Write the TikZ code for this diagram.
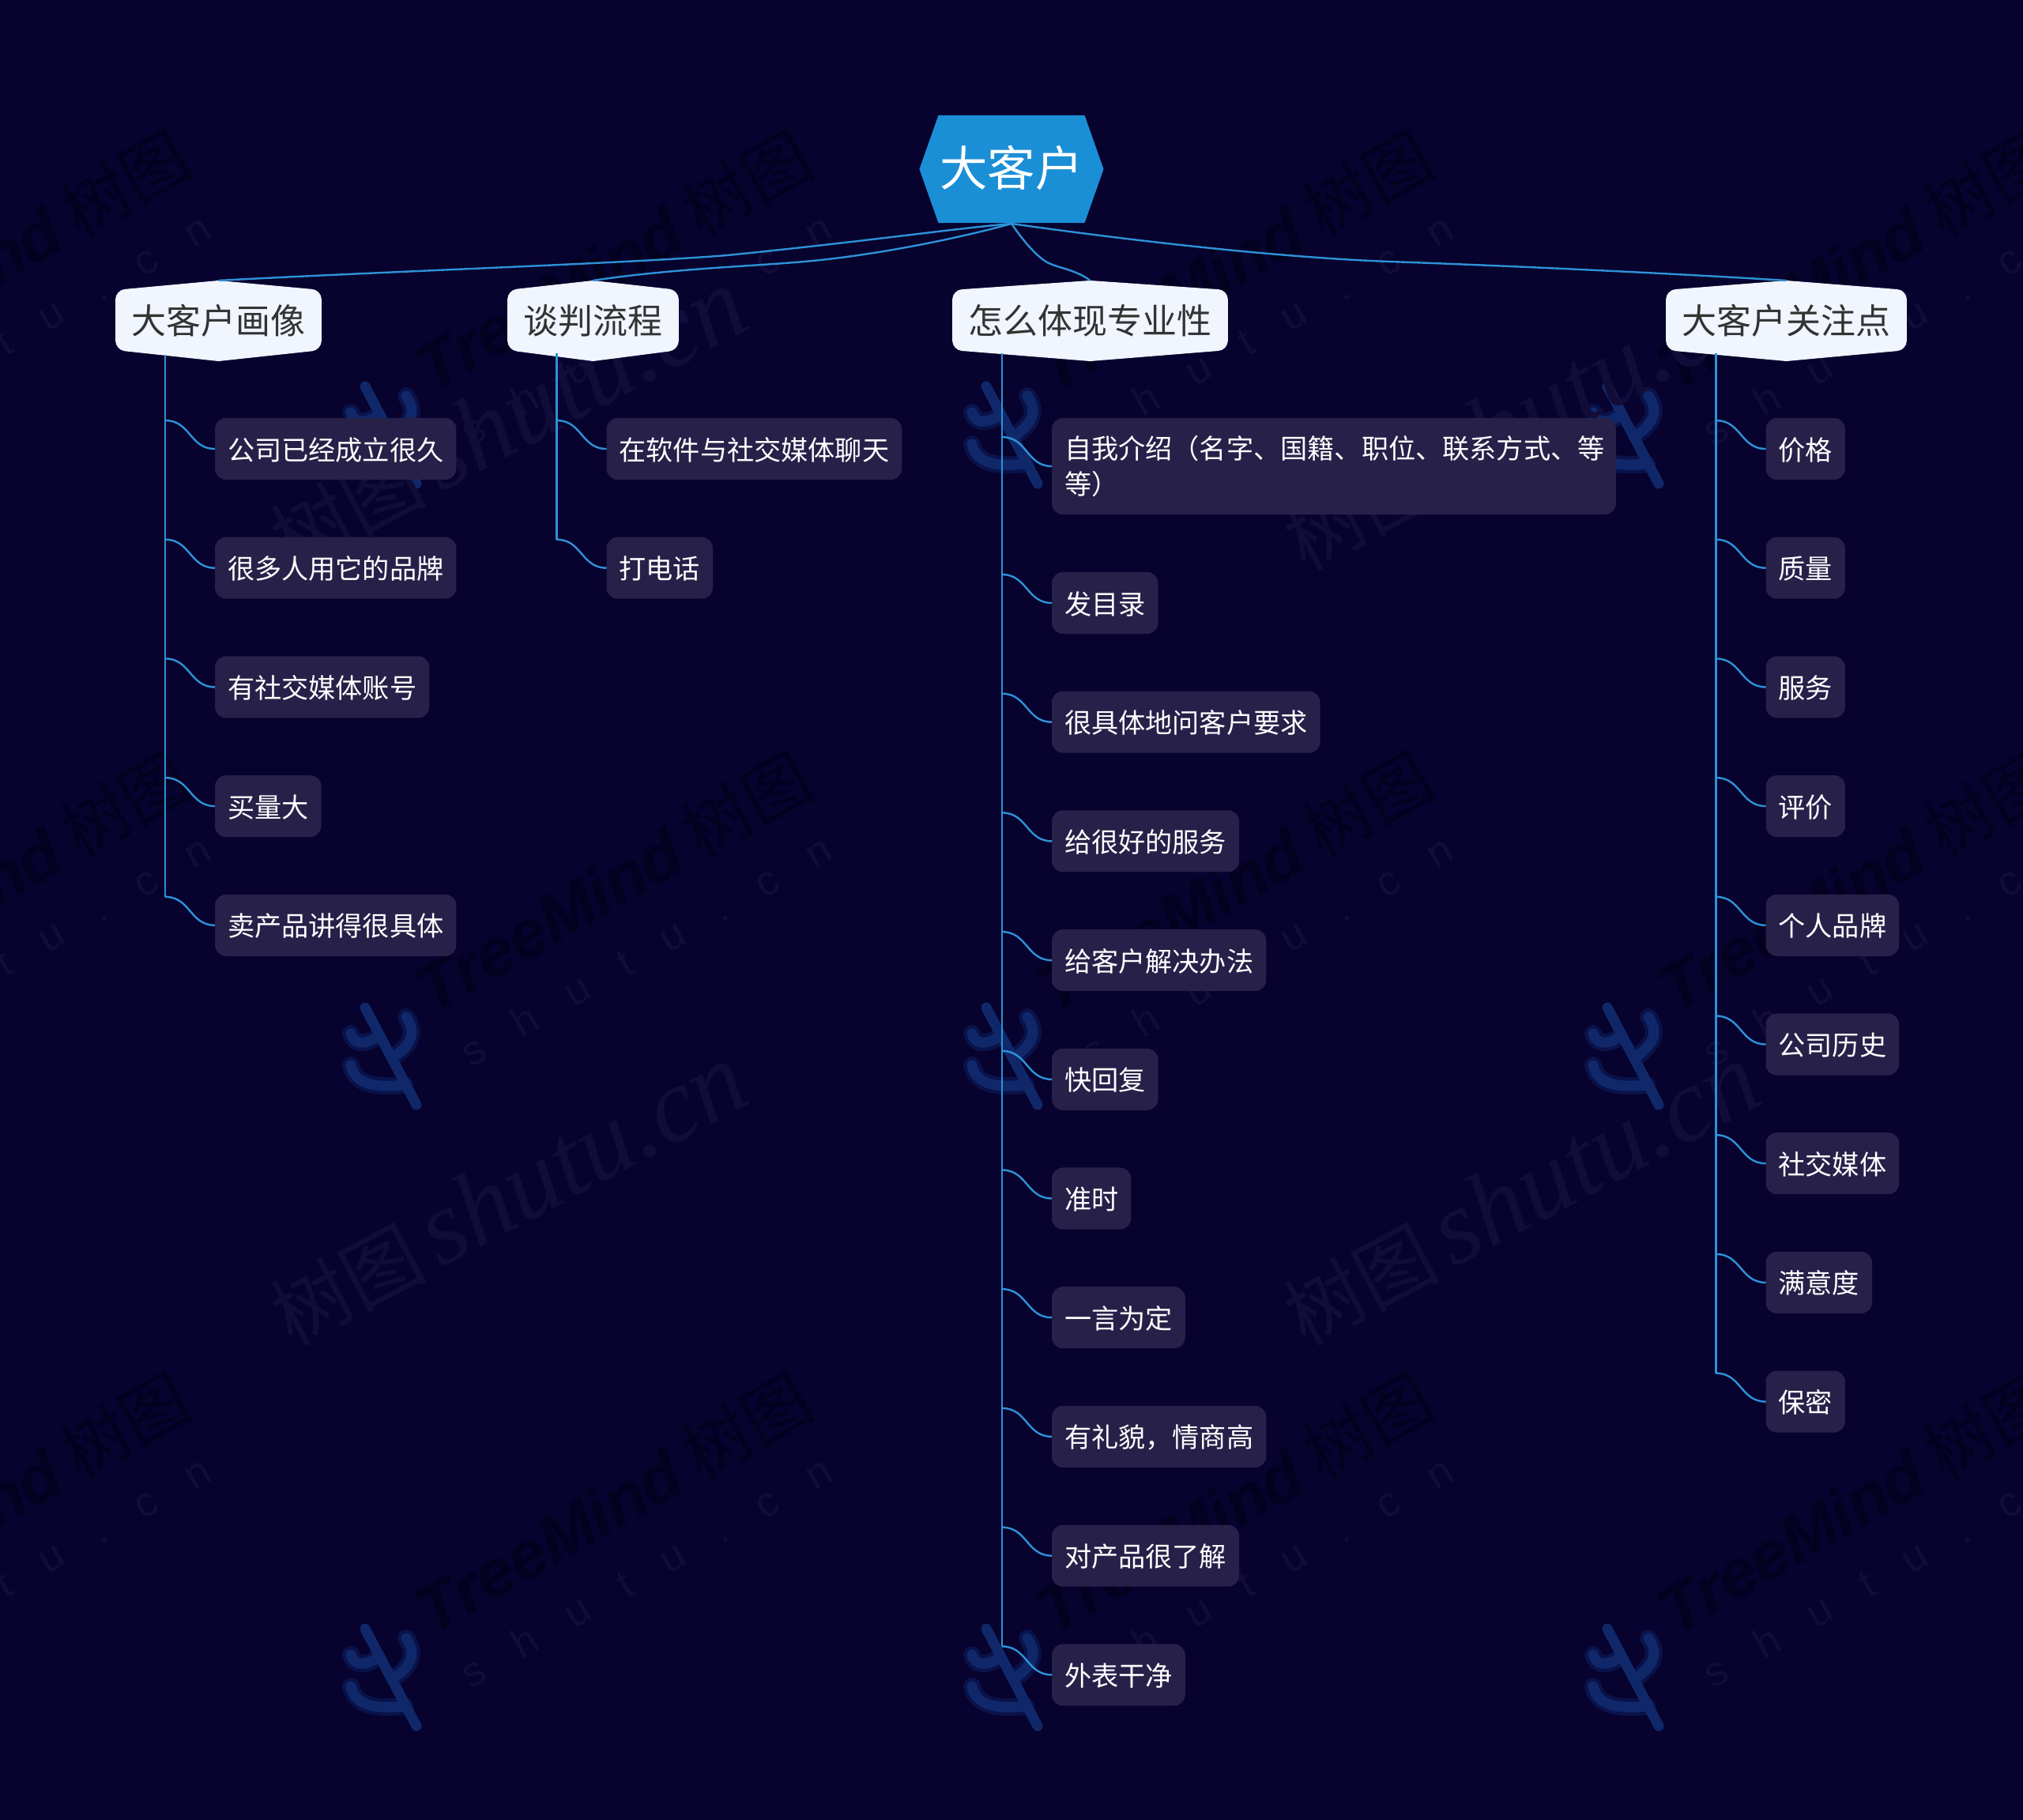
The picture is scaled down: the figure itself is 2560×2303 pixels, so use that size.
\documentclass[tikz,border=0pt]{standalone}
\usepackage{fontspec}
\setmainfont{Noto Sans CJK SC}
\newfontfamily\tmfont{Liberation Sans}
\newfontfamily\shfont{Liberation Serif}
\usetikzlibrary{calc}
\definecolor{nightblue}{RGB}{7, 2, 46}
\definecolor{rootblue}{RGB}{27, 143, 214}
\definecolor{linkblue}{RGB}{46, 146, 216}
\definecolor{palecard}{RGB}{240, 245, 254}
\definecolor{leafcard}{RGB}{39, 33, 73}
\definecolor{inkgray}{RGB}{51, 51, 51}
\definecolor{markdark}{RGB}{4, 1, 32}
\definecolor{markgray}{RGB}{18, 13, 56}
\definecolor{logoblue}{RGB}{16, 40, 106}
\definecolor{logohalo}{RGB}{10, 18, 74}

\begin{document}
\begin{tikzpicture}[x=0.01cm,y=-0.01cm,
    link/.style={linkblue,line width=0.024cm},
    leaf/.style={rectangle,fill=leafcard,rounded corners=.14cm,anchor=west,
        inner xsep=.16cm,inner ysep=0pt,outer sep=0pt,minimum height=.78cm,
        text=white,text height=.31cm,text depth=.03cm,font=\fontsize{9.72}{12.6}\selectfont},
    topic/.style={rectangle,inner xsep=.205cm,inner ysep=0pt,outer sep=0pt,minimum height=1.02cm,
        text=inkgray,font=\fontsize{12.5}{15}\selectfont,
        path picture={
            \fill[palecard] (path picture bounding box.north)
                [rounded corners=.12cm] -- ($(path picture bounding box.north east)+(0,-.12cm)$)
                -- ($(path picture bounding box.south east)+(0,.14cm)$)
                [sharp corners] -- (path picture bounding box.south)
                [rounded corners=.12cm] -- ($(path picture bounding box.south west)+(0,.14cm)$)
                -- ($(path picture bounding box.north west)+(0,-.12cm)$)
                [sharp corners] -- cycle;
        }},
    hub/.style={rectangle,inner sep=0pt,outer sep=0pt,minimum width=2.33cm,minimum height=1.36cm,
        text=white,text height=.53cm,text depth=.102cm,font=\fontsize{17.2}{20}\selectfont,
        path picture={
            \fill[rootblue] (path picture bounding box.west)
                -- ($(path picture bounding box.north west)+(.24cm,0)$)
                -- ($(path picture bounding box.north east)+(-.24cm,0)$)
                -- (path picture bounding box.east)
                -- ($(path picture bounding box.south east)+(-.24cm,0)$)
                -- ($(path picture bounding box.south west)+(.24cm,0)$) -- cycle;
        }},
    sprig/.style={line cap=round,line width=0.13cm}
]
    \useasboundingbox (0,0) rectangle (2560,2303);
    \fill[nightblue] (0,0) rectangle (2560,2303);

    % Watermark tiles
    \foreach \ix in {-786,0,786,1572} {
        \foreach \iy in {-786,0,786} {
            \begin{scope}[shift={(\ix,\iy)}]
                \node[rotate=30,text=markdark,font=\fontsize{24}{24}\selectfont] (tm\ix\iy) at (775,1116) {{\tmfont\bfseries\itshape TreeMind} 树图};
                \node[rotate=30,text=markgray,font=\tmfont\fontsize{15}{15}\selectfont] (su\ix\iy) at (817,1202) {s\hspace{.9em}h\hspace{.9em}u\hspace{.9em}t\hspace{.9em}u\hspace{.9em}.\hspace{.9em}c\hspace{.9em}n};
                % Logo sprig
                \foreach \col/\wid in {logohalo/0.22cm,logoblue/0.13cm} {
                    \draw[sprig,\col,line width=\wid] (444,1308) .. controls (448,1322) and (462,1322) .. (476,1313);
                    \draw[sprig,\col,line width=\wid] (514,1287) .. controls (530,1310) and (515,1325) .. (499,1337);
                    \draw[sprig,\col,line width=\wid] (444,1348) .. controls (450,1375) and (480,1376) .. (512,1373);
                }
                \draw[sprig,logoblue] (462,1275) -- (527,1398);
            \end{scope}
        }
    }
    \foreach \ix/\iy in {0/0,1282/0,0/-981,1282/-981} {
        \node[rotate=28,text=markgray,font=\fontsize{28}{28}\selectfont] (wm\ix\iy) at ({642+\ix},{1512+\iy}) {树图\,{\shfont\itshape\fontsize{38}{38}\selectfont shutu.cn}};
    }

    % Root and the four topics
    \node[hub] (root) at (1280,214) {大客户};
    \node[topic] (portrait) at (276.5,406) {大客户画像};
    \node[topic] (talks) at (750.5,406) {谈判流程};
    \node[topic] (skill) at (1379.5,406) {怎么体现专业性};
    \node[topic] (focus) at (2260.5,406) {大客户关注点};

    \coordinate (rootfoot) at (1280,283);
    \draw[link] (rootfoot) .. controls (1200,290) and (1100,305) .. (920,323) .. controls (800,333) and (500,343) .. (portrait.north);
    \draw[link] (rootfoot) .. controls (1230,297) and (1120,322) .. (1018,331) .. controls (950,337) and (850,340) .. (talks.north);
    \draw[link] (rootfoot) .. controls (1295,305) and (1310,322) .. (1322,330) .. controls (1335,339) and (1360,340) .. (skill.north);
    \draw[link] (rootfoot) .. controls (1400,300) and (1600,325) .. (1758,331) .. controls (1900,336) and (2100,345) .. (focus.north);

    % Customer portrait
    \foreach \n/\y/\t in {1/568/公司已经成立很久,2/718.7/很多人用它的品牌,3/869.4/有社交媒体账号,4/1020.1/买量大,5/1170.8/卖产品讲得很具体} {
        \node[leaf] (a\n) at (272,\y) {\t};
        \coordinate (sa\n) at (209,\y-36);
        \draw[link] (sa\n) .. controls +(32,0) and ($(a\n.west)+(-32,0)$) .. (a\n.west);
    }
    \coordinate (atop) at (209,449);
    \draw[link] (atop) -- (sa5);

    % Negotiation steps
    \foreach \n/\y/\t in {1/568/在软件与社交媒体聊天,2/718.7/打电话} {
        \node[leaf] (b\n) at (767.5,\y) {\t};
        \coordinate (sb\n) at (704.5,\y-36);
        \draw[link] (sb\n) .. controls +(32,0) and ($(b\n.west)+(-32,0)$) .. (b\n.west);
    }
    \coordinate (btop) at (704.5,447);
    \draw[link] (btop) -- (sb2);

    % Showing professionalism
    \node[leaf,text width=6.815cm,text height=,text depth=,align=left,minimum height=1.22cm] (c1) at (1331,590) {自我介绍（名字、国籍、职位、联系方式、等\\等）};
    \coordinate (sc1) at (1268,553);
    \draw[link] (sc1) .. controls +(32,0) and ($(c1.west)+(-32,0)$) .. (c1.west);
    \foreach \n/\y/\t in {2/763/发目录,3/913.7/很具体地问客户要求,4/1064.4/给很好的服务,5/1215.1/给客户解决办法,6/1365.8/快回复,7/1516.5/准时,8/1667.2/一言为定,9/1817.9/有礼貌，情商高,10/1968.6/对产品很了解,11/2119.3/外表干净} {
        \node[leaf] (c\n) at (1331,\y) {\t};
        \coordinate (sc\n) at (1268,\y-36);
        \draw[link] (sc\n) .. controls +(32,0) and ($(c\n.west)+(-32,0)$) .. (c\n.west);
    }
    \coordinate (ctop) at (1268,447);
    \draw[link] (ctop) -- (sc11);

    % What the customer cares about
    \foreach \n/\y/\t in {1/568/价格,2/718.7/质量,3/869.4/服务,4/1020.1/评价,5/1170.8/个人品牌,6/1321.5/公司历史,7/1472.2/社交媒体,8/1622.9/满意度,9/1773.6/保密} {
        \node[leaf] (d\n) at (2234.5,\y) {\t};
        \coordinate (sd\n) at (2171.5,\y-36);
        \draw[link] (sd\n) .. controls +(32,0) and ($(d\n.west)+(-32,0)$) .. (d\n.west);
    }
    \coordinate (dtop) at (2171.5,447);
    \draw[link] (dtop) -- (sd9);
\end{tikzpicture}
\end{document}
